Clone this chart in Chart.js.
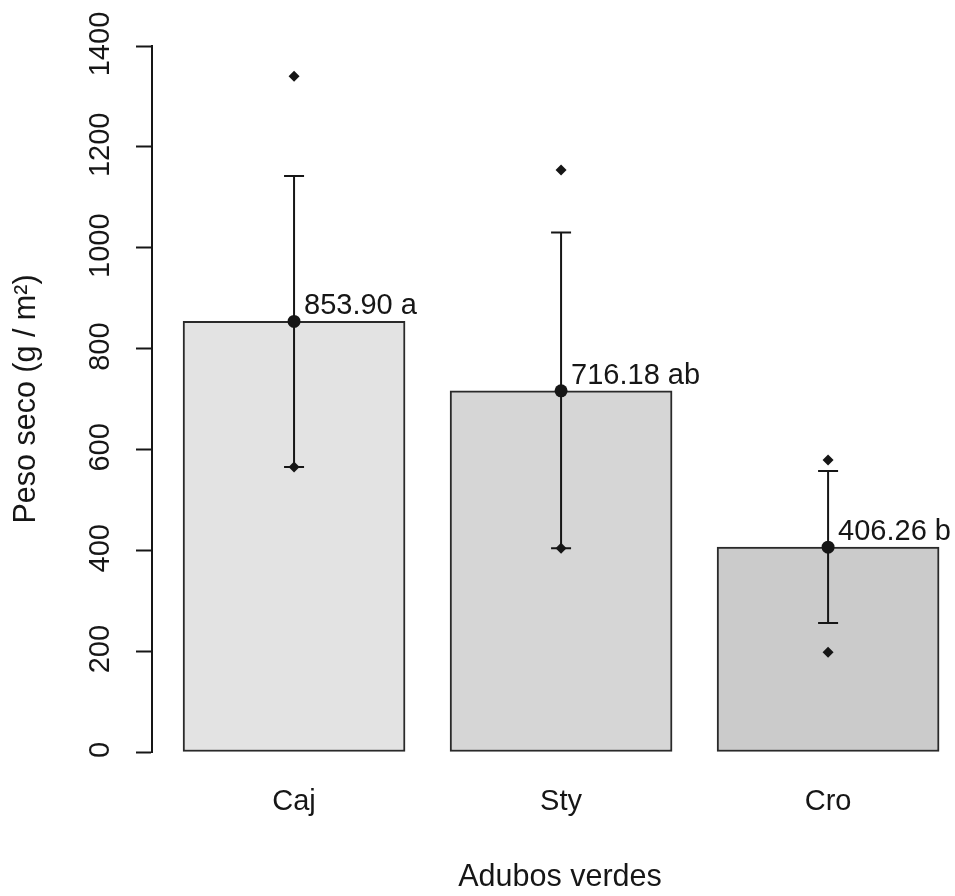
<!DOCTYPE html>
<html>
<head>
<meta charset="utf-8">
<title>Peso seco - adubos verdes</title>
<script src="https://cdn.jsdelivr.net/npm/chart.js@4.4.1/dist/chart.umd.min.js"></script>
<style>
  html, body { margin: 0; padding: 0; background: #fff; overflow: hidden; }
  canvas { display: block; }
</style>
</head>
<body>
<!-- plot region runs a little past the right edge of the page, like the R device did -->
<canvas id="pesoChart" width="968" height="896"></canvas>
<script>
const categories = ["Caj", "Sty", "Cro"];
const means = [853.90, 716.18, 406.26];
const groups = ["a", "ab", "b"];
const errLow = [565, 404, 256];
const errHigh = [1142, 1030, 557];
const obsMax = [1340, 1154, 579];
const obsMin = [565, 404, 198];
const barFills = ["#e3e3e3", "#d6d6d6", "#cbcbcb"];
const yTicks = [0, 200, 400, 600, 800, 1000, 1200, 1400];

const ink = "#161616";
const family = "'Liberation Sans', Arial, Helvetica, sans-serif";
const textFont = { family, size: 29 };
const titleFont = { family, size: 30.5 };

// mean +/- error whiskers, drawn right after the bars so the points sit on top
const errorBars = {
  id: "errorBars",
  afterDatasetDraw(chart, args) {
    if (args.index !== 0) return;
    const { ctx, scales: { x, y } } = chart;
    ctx.save();
    ctx.strokeStyle = ink;
    ctx.lineWidth = 2;
    categories.forEach((_, i) => {
      const px = x.getPixelForValue(i);
      const top = y.getPixelForValue(errHigh[i]);
      const bot = y.getPixelForValue(errLow[i]);
      ctx.beginPath();
      ctx.moveTo(px, top); ctx.lineTo(px, bot);
      ctx.moveTo(px - 10, top); ctx.lineTo(px + 10, top);
      ctx.moveTo(px - 10, bot); ctx.lineTo(px + 10, bot);
      ctx.stroke();
    });
    ctx.restore();
  },
};

// "853.90 a" style labels next to each mean, plus the rotated y tick labels
const annotations = {
  id: "annotations",
  afterDraw(chart) {
    const { ctx, scales: { x, y } } = chart;
    ctx.save();
    ctx.fillStyle = ink;
    ctx.font = `29px ${family}`;
    ctx.textBaseline = "alphabetic";
    ctx.textAlign = "left";
    means.forEach((m, i) => {
      ctx.fillText(`${m.toFixed(2)} ${groups[i]}`, x.getPixelForValue(i) + 10, y.getPixelForValue(m) - 7);
    });

    ctx.textAlign = "center";
    y.ticks.forEach((t) => {
      ctx.save();
      ctx.translate(109, y.getPixelForValue(t.value) - 2);
      ctx.rotate(-Math.PI / 2);
      ctx.fillText(String(t.value), 0, 0);
      ctx.restore();
    });
    ctx.restore();
  },
};

new Chart(document.getElementById("pesoChart"), {
  type: "bar",
  data: {
    datasets: [
      {
        type: "bar",
        data: means.map((m, i) => ({ x: i, y: m })),
        backgroundColor: barFills,
        borderColor: "#2a2a2a",
        borderWidth: 2,
        borderSkipped: false,
        barThickness: 222,
        order: 3,
      },
      {
        type: "scatter",
        data: means.map((m, i) => ({ x: i, y: m })),
        pointStyle: "circle",
        pointRadius: 6.5,
        backgroundColor: ink,
        borderWidth: 0,
        order: 1,
      },
      {
        type: "scatter",
        data: obsMax.map((v, i) => ({ x: i, y: v })).concat(obsMin.map((v, i) => ({ x: i, y: v }))),
        pointStyle: "rectRot",
        pointRadius: 5.5,
        backgroundColor: ink,
        borderWidth: 0,
        order: 2,
      },
    ],
  },
  options: {
    responsive: false,
    animation: false,
    devicePixelRatio: 1,
    layout: { autoPadding: false, padding: { top: 46, right: 0, bottom: 0, left: 0 } },
    plugins: { legend: { display: false }, tooltip: { enabled: false } },
    scales: {
      x: {
        type: "linear",
        offset: false,
        min: -0.532,
        max: 2.524,
        afterBuildTicks: (s) => { s.ticks = categories.map((_, i) => ({ value: i })); },
        afterFit: (s) => { s.height = 144; },
        grid: { display: false, drawTicks: false, offset: false },
        border: { display: false },
        ticks: { padding: 33, color: ink, font: textFont, callback: (v) => categories[v] },
        title: { display: true, text: "Adubos verdes", color: ink, font: titleFont, padding: { top: 0, bottom: 0 } },
      },
      y: {
        min: 0,
        max: 1400,
        afterBuildTicks: (s) => { s.ticks = yTicks.map((v) => ({ value: v })); },
        afterFit: (s) => { s.width = 152; },
        grid: { drawOnChartArea: false, drawTicks: true, tickLength: 16, tickColor: ink, tickWidth: 2 },
        border: { display: true, color: ink, width: 2 },
        ticks: { display: false },
        title: { display: true, text: "Peso seco (g / m²)", color: ink, font: titleFont, padding: { top: 8, bottom: 0 } },
      },
    },
  },
  plugins: [errorBars, annotations],
});
</script>
</body>
</html>
